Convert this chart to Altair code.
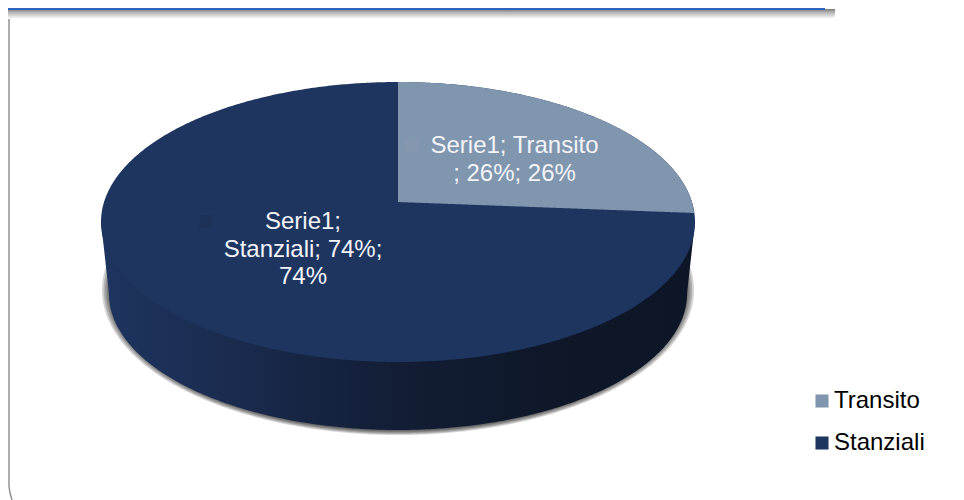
import numpy as np
import pandas as pd
import altair as alt

# values
categories = ["Transito", "Stanziali"]
shares = [26, 74]
colors = ["#8096AE", "#1E3560"]
label_lines = [
    ["Serie1; Transito", "; 26%; 26%"],
    ["Serie1;", "Stanziali; 74%;", "74%"],
]
label_x = [514.5, 303]
label_first_y = [146, 222]
label_step = 27.5

W, H = 948, 492
CX, CY, RX, RY = 398.0, 222.0, 297.0, 140.0
APEX_Y = 202.0
TILT = 0.59
BCY, BRX, BRY = 294.0, 289.0, 136.0

xs = alt.Scale(domain=[8, 8 + W], range=[0, W], nice=False, zero=False)
ys = alt.Scale(domain=[8 + H, 8], nice=False, zero=False)


def grad(stops, x2, y2):
    return alt.LinearGradient(
        gradient="linear",
        stops=[alt.GradientStop(offset=o, color=c) for o, c in stops],
        x1=0, y1=0, x2=x2, y2=y2,
    )


def enc(**kw):
    out = {}
    for k, v in kw.items():
        if k == "x":
            out[k] = alt.X(v, type="quantitative", scale=xs, axis=None)
        elif k == "y":
            out[k] = alt.Y(v, type="quantitative", scale=ys, axis=None)
        elif k == "x2":
            out[k] = alt.X2(v)
        elif k == "y2":
            out[k] = alt.Y2(v)
        else:
            out[k] = v
    return out


t = np.linspace(0, np.pi, 361)
ex = CX - RX * np.cos(t)


def ell(x, cx, cy, rx, ry, sign):
    u = np.clip((x - cx) / rx, -1, 1)
    return cy + sign * ry * np.sqrt(1 - u ** 2)


# wedge end point, from the share of the first category
theta = shares[0] / sum(shares) * 2 * np.pi
dx, dy = np.sin(theta), -TILT * np.cos(theta)
s = np.linspace(0, 400, 40001)
px, py = CX + s * dx, APEX_Y + s * dy
inside = ((px - CX) / RX) ** 2 + ((py - CY) / RY) ** 2 <= 1
end_x, end_y = px[inside][-1], py[inside][-1]

layers = []

# header bar and its shadow
sh_stops = [(0, "#7a7a7a"), (0.35, "#b5b5b5"), (1, "#ffffff")]
layers.append(
    alt.Chart(pd.DataFrame({"a": [8], "b": [835], "c": [9], "d": [19]}))
    .mark_rect(fill=grad(sh_stops, 0, 1), cornerRadiusBottomRight=8)
    .encode(**enc(x="a", x2="b", y="c", y2="d"))
)
layers.append(
    alt.Chart(pd.DataFrame({"a": [8], "b": [825], "c": [8], "d": [10]}))
    .mark_rect(fill="#3063BE")
    .encode(**enc(x="a", x2="b", y="c", y2="d"))
)

# frame
frames = pd.DataFrame({
    "fx": [9, 9, 10, 12],
    "fy": [19, 486, 493, 500],
})
layers.append(
    alt.Chart(frames).mark_line(color="#8c8c8c", strokeWidth=1.4)
    .encode(**enc(x="fx", y="fy"), order=alt.Order("fy:Q"))
)

# soft shadow under the pie
for d in [1.0, 0.75, 0.5, 0.25, 0.0]:
    rx_s, ry_s, cy_s = BRX + 7 * d, 141 + 4 * d, 290.0
    tt = np.linspace(0, np.pi, 241)
    sx = CX - rx_s * np.cos(tt)
    layers.append(
        alt.Chart(pd.DataFrame({
            "sx": sx,
            "up": ell(sx, CX, cy_s, rx_s, ry_s, -1),
            "lo": ell(sx, CX, cy_s, rx_s, ry_s, 1),
        })).mark_area(color="#000000", opacity=0.17, orient="vertical")
        .encode(**enc(x="sx", y="up", y2="lo"))
    )

# side wall
side_x = ex
low = np.where(
    np.abs(side_x - CX) <= BRX,
    ell(side_x, CX, BCY, BRX, BRY, 1),
    CY + (BCY - CY) * (RX - np.abs(side_x - CX)) / (RX - BRX),
)
side_stops = [
    (0.0, "#1E3560"), (0.10, "#1C3058"), (0.22, "#1A2B4E"),
    (0.48, "#131E37"), (0.75, "#0E1829"), (1.0, "#0C1626"),
]
layers.append(
    alt.Chart(pd.DataFrame({"sx": side_x, "up": CY, "lo": low}))
    .mark_area(fill=grad(side_stops, 1, 0), orient="vertical")
    .encode(**enc(x="sx", y="up", y2="lo"))
)

color = alt.Color(
    "cat:N",
    scale=alt.Scale(domain=categories, range=colors),
    legend=alt.Legend(
        orient="none", legendX=802, legendY=381, title=None,
        symbolType="square", symbolSize=170, symbolStrokeWidth=0,
        labelFont="Liberation Sans", labelFontSize=24, labelColor="#000000",
        labelOffset=0, rowPadding=18, symbolOpacity=1, padding=0,
    ),
)

# top faces
layers.append(
    alt.Chart(pd.DataFrame({
        "sx": ex,
        "up": ell(ex, CX, CY, RX, RY, -1),
        "lo": ell(ex, CX, CY, RX, RY, 1),
        "cat": categories[1],
    })).mark_area(orient="vertical", opacity=1)
    .encode(**enc(x="sx", y="up", y2="lo"), color=color)
)
wx = CX + (end_x - CX) * (1 - np.cos(np.linspace(0, np.pi / 2, 181)))
wx[-1] = end_x
layers.append(
    alt.Chart(pd.DataFrame({
        "sx": wx,
        "up": ell(wx, CX, CY, RX, RY, -1),
        "lo": APEX_Y + (wx - CX) * dy / dx,
        "cat": categories[0],
    })).mark_area(orient="vertical", opacity=1)
    .encode(**enc(x="sx", y="up", y2="lo"), color=color)
)

# ghost keys behind the labels
ghost = pd.DataFrame({
    "g1": [405, 199], "g2": [418, 212], "h1": [138.5, 215], "h2": [151.5, 228],
    "c": ["#8497AF", "#1D3259"],
})
layers.append(
    alt.Chart(ghost).mark_rect(opacity=1)
    .encode(**enc(x="g1", x2="g2", y="h1", y2="h2"), fill=alt.Fill("c:N", scale=None))
)

# data labels
rows = []
for lines, lx, ly in zip(label_lines, label_x, label_first_y):
    for i, line in enumerate(lines):
        rows.append({"tx": lx, "ty": ly + i * label_step, "txt": line})
layers.append(
    alt.Chart(pd.DataFrame(rows))
    .mark_text(font="Liberation Sans", fontSize=24, color="#F2F4F8", align="center", baseline="middle")
    .encode(**enc(x="tx", y="ty"), text="txt:N")
)

chart = (
    alt.layer(*layers)
    .resolve_scale(x="shared", y="shared")
    .properties(width=W, height=H, padding=0, autosize="none", background="#FFFFFF")
    .configure_view(stroke=None)
)
chart.save("out.html", embed_options={"renderer": "svg", "actions": False})
